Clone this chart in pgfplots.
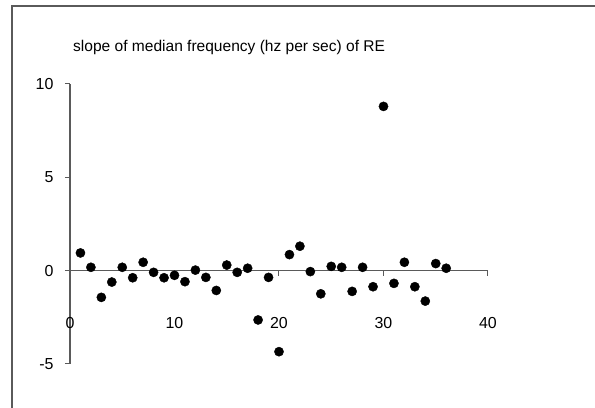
\documentclass[border=0pt]{standalone}
\usepackage{pgfplots}
\pgfplotsset{compat=1.18}
\usepackage{fontspec}
\setmainfont{Liberation Sans}
\pgfplotstableread{
x y
1 0.95
2 0.18
3 -1.43
4 -0.61
5 0.18
6 -0.38
7 0.45
8 -0.09
9 -0.38
10 -0.25
11 -0.59
12 0.03
13 -0.36
14 -1.06
15 0.30
16 -0.09
17 0.13
18 -2.64
19 -0.36
20 -4.34
21 0.86
22 1.31
23 -0.05
24 -1.24
25 0.23
26 0.18
27 -1.11
28 0.18
29 -0.86
30 8.80
31 -0.68
32 0.45
33 -0.86
34 -1.63
35 0.38
36 0.13
}\datatable
\definecolor{axgray}{RGB}{90,90,90}
\begin{document}
\begin{tikzpicture}
\useasboundingbox (0,0) rectangle (595bp,408bp);
\fill[white] (0,0) rectangle (595bp,408bp);
\draw[line width=1.2bp, axgray] (12bp,0) -- (12bp,402bp) -- (595bp,402bp);
\node[anchor=west, inner sep=0pt, font=\fontsize{15.6}{18}\selectfont] at (73bp,361bp) {slope of median frequency (hz per sec) of RE};
\begin{axis}[
  at={(70bp,44bp)}, anchor=south west,
  scale only axis, width=418bp, height=280bp,
  xmin=0, xmax=40, ymin=-5, ymax=10,
  axis x line=middle, axis y line=left,
  axis line style={-, line width=1.2bp, axgray},
  xtick={0,10,20,30,40}, ytick={-5,0,5,10},
  xticklabels={0,10,20,30,40},
  tick align=outside, major tick length=5bp,
  tick style={line width=1bp, axgray},
  /pgf/number format/assume math mode=true,
  tick label style={font=\fontsize{16}{19}\selectfont, black},
  xticklabel style={yshift=-38bp},
  yticklabel style={xshift=-8bp},
  hide obscured x ticks=false,
  clip=false,
]
\addplot[only marks, mark=*, mark size=4.6bp, black] table[x=x,y=y] {\datatable};
\end{axis}
\end{tikzpicture}
\end{document}
